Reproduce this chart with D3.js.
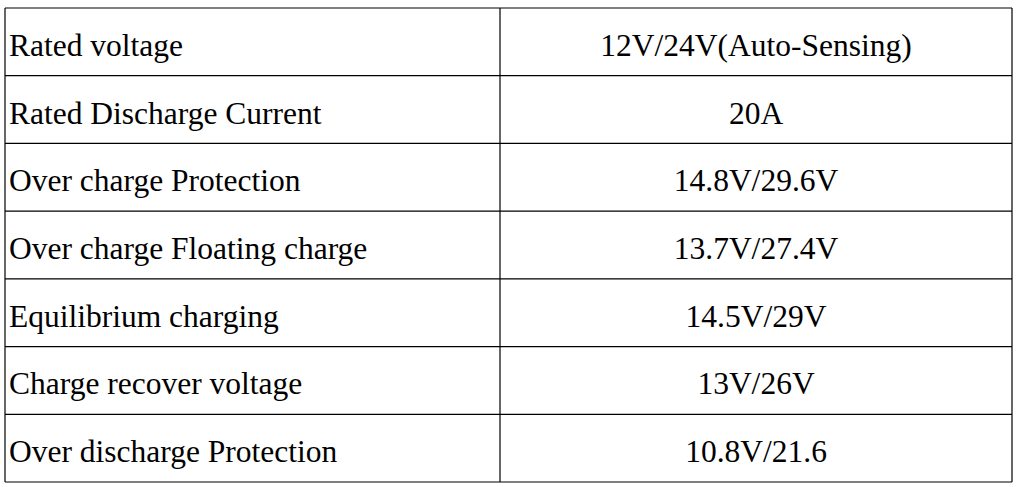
<!DOCTYPE html>
<html><head><meta charset="utf-8">
<script src="https://cdn.jsdelivr.net/npm/d3@7"></script>
<style>body{margin:0;background:#fff}</style>
</head><body><div id="tbl"></div>
<script>
// Parameter names and values
const params = ["Rated voltage", "Rated Discharge Current", "Over charge Protection",
  "Over charge Floating charge", "Equilibrium charging", "Charge recover voltage",
  "Over discharge Protection"];
const values = ["12V/24V(Auto-Sensing)", "20A", "14.8V/29.6V", "13.7V/27.4V",
  "14.5V/29V", "13V/26V", "10.8V/21.6"];

const W = 1017, H = 487;
const svg = d3.select("#tbl").append("svg").attr("width", W).attr("height", H);

const y = d3.scaleBand().domain(d3.range(params.length)).range([8, 482]);
const x = d3.scaleLinear().domain([0, 1, 2]).range([5, 500, 1012]);

const rows = svg.selectAll("g.row").data(params).enter().append("g")
  .attr("transform", (d, i) => `translate(0,${y(i)})`);

rows.append("text")
  .attr("x", x(0) + 4)
  .attr("y", y.bandwidth() / 2 + 3)
  .attr("dy", "0.35em")
  .style("font-family", "Liberation Serif, Times New Roman, serif")
  .style("font-size", "31.5px")
  .text(d => d);

rows.append("text")
  .attr("x", (x(1) + x(2)) / 2)
  .attr("y", y.bandwidth() / 2 + 3)
  .attr("dy", "0.35em")
  .attr("text-anchor", "middle")
  .style("font-family", "Liberation Serif, Times New Roman, serif")
  .style("font-size", "31.5px")
  .text((d, i) => values[i]);

// grid lines
const lines = svg.append("g").attr("stroke", "#000").attr("stroke-width", 1.2);
d3.range(params.length + 1).forEach(i => {
  const yy = i < params.length ? y(i) : y.range()[1];
  lines.append("line").attr("x1", x(0)).attr("x2", x(2)).attr("y1", yy).attr("y2", yy);
});
[0, 1, 2].forEach(c => {
  lines.append("line").attr("x1", x(c)).attr("x2", x(c)).attr("y1", y.range()[0]).attr("y2", y.range()[1]);
});
</script>
</body></html>
